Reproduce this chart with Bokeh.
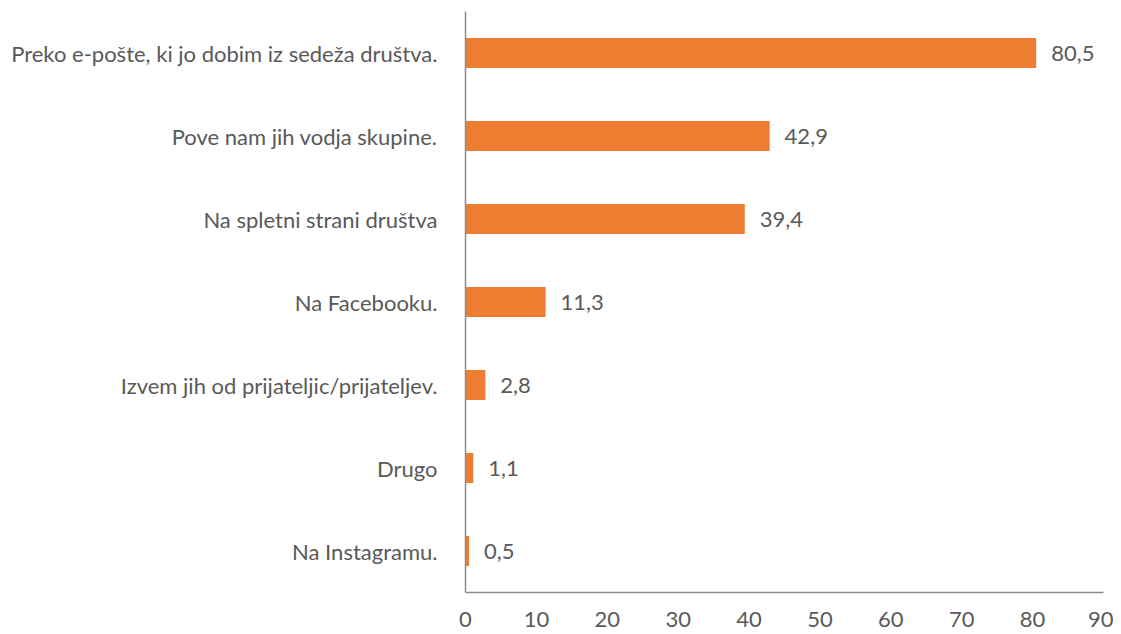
from bokeh.plotting import figure
from bokeh.models import ColumnDataSource, FactorRange, Range1d, FixedTicker
from bokeh.core.properties import value
from bokeh.embed import file_html
from bokeh.resources import INLINE

categories = [
    "Preko e-pošte, ki jo dobim iz sedeža društva.",
    "Pove nam jih vodja skupine.",
    "Na spletni strani društva",
    "Na Facebooku.",
    "Izvem jih od prijateljic/prijateljev.",
    "Drugo",
    "Na Instagramu.",
]
values = [80.5, 42.9, 39.4, 11.3, 2.8, 1.1, 0.5]
labels = ["80,5", "42,9", "39,4", "11,3", "2,8", "1,1", "0,5"]
x_ticks = [0, 10, 20, 30, 40, 50, 60, 70, 80, 90]

FONT = "Lato"
FS = "22px"
TEXT_COLOR = "#595959"
AXIS_COLOR = "#8c8c8c"

order = list(reversed(categories))
src = ColumnDataSource(dict(cat=categories, val=values, lab=labels))

p = figure(width=1113, height=632, output_backend="svg", toolbar_location=None,
           y_range=FactorRange(*order, range_padding=0),
           x_range=Range1d(0, 90),
           min_border_left=465, min_border_right=10, min_border_top=11, min_border_bottom=40)
p.outline_line_color = None
p.grid.grid_line_color = None

p.hbar(y="cat", right="val", left=0, height=0.36, source=src,
       fill_color="#ED7D31", line_color=None)
p.text(x="val", y="cat", text="lab", source=src, x_offset=15,
       text_font=value(FONT), text_font_size=FS, text_color=TEXT_COLOR,
       text_baseline="middle", text_align="left")

p.xaxis.ticker = FixedTicker(ticks=x_ticks)
for ax in (p.xaxis[0], p.yaxis[0]):
    ax.axis_line_color = AXIS_COLOR
    ax.axis_line_width = 1.5
    ax.major_tick_line_color = None
    ax.minor_tick_line_color = None
    ax.major_label_text_font = FONT
    ax.major_label_text_font_size = FS
    ax.major_label_text_color = TEXT_COLOR
p.xaxis.major_label_standoff = 13
p.yaxis.major_label_standoff = 22

open("out.html", "w").write(file_html(p, INLINE))
